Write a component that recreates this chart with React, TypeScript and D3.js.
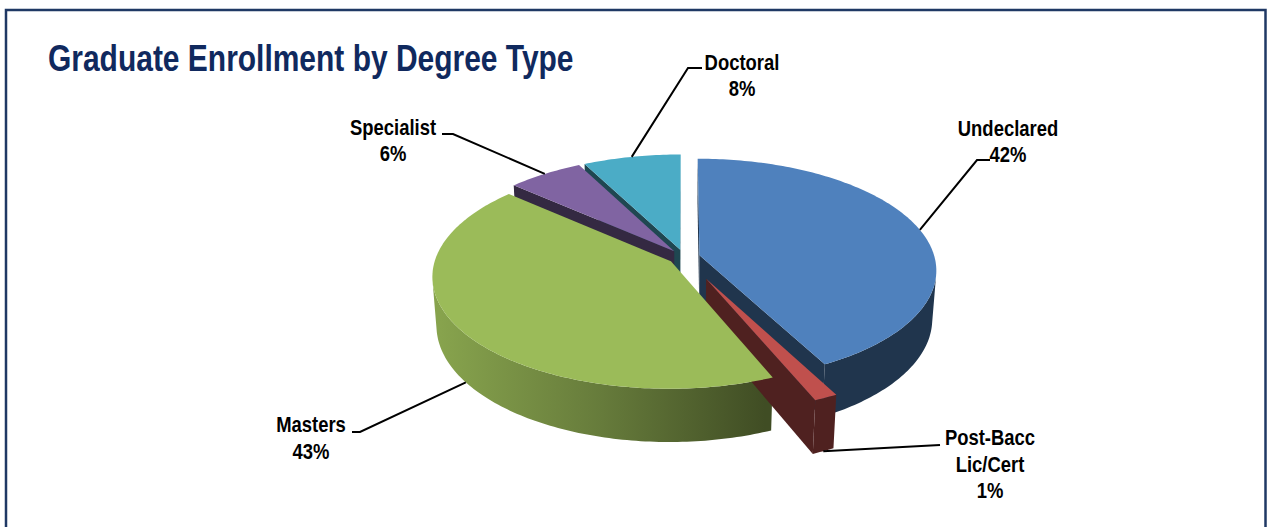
import React from 'react';
import * as d3 from 'd3';

// ---------- data ----------
const categories: string[] = ['Undeclared', 'Post-Bacc Lic/Cert', 'Masters', 'Specialist', 'Doctoral'];
const values: number[] = [42.3, 1.4, 42.8, 5.9, 7.6];
const percentLabels: string[] = ['42%', '1%', '43%', '6%', '8%'];
const labelLines: string[][] = [['Undeclared'], ['Post-Bacc', 'Lic/Cert'], ['Masters'], ['Specialist'], ['Doctoral']];
const title = 'Graduate Enrollment by Degree Type';

// ---------- style / layout ----------
const colors: string[] = ['#4F81BD', '#C0504D', '#9BBB59', '#8064A2', '#4BACC6'];
const explode: number[] = [0.068, 0.215, 0.068, 0.068, 0.068];
const labelLayout = [
  { elbow: [977, 160], end: [990, 160], cx: 1008, baselines: [136, 162] },
  { elbow: [940, 445], end: [940, 445], cx: 990, baselines: [445, 472, 498] },
  { elbow: [360, 432], end: [352, 432], cx: 311, baselines: [432, 459] },
  { elbow: [453, 134], end: [442, 134], cx: 393, baselines: [135, 161] },
  { elbow: [688, 68], end: [702, 68], cx: 742, baselines: [70, 96] },
];

const W = 1267;
const H = 527;
const CX = 684;
const CY = 257;
const SIN_A = 0.466;
const COS_A = Math.sqrt(1 - SIN_A * SIN_A);
const DIST = 6.79;
const FOCAL = 1596;
const DEPTH = 0.236;
const CAM: [number, number, number] = [0, DIST * SIN_A, -DIST * COS_A];
const FONT = "'Liberation Sans', Arial, sans-serif";

function project(x: number, y: number, z: number): [number, number] {
  const depth = -y * SIN_A + z * COS_A;
  const up = y * COS_A + z * SIN_A;
  const k = FOCAL / (DIST + depth);
  return [CX + x * k, CY - up * k];
}

function shade(c: string, k: number): string {
  const r = d3.rgb(c);
  return d3.rgb(r.r * k, r.g * k, r.b * k).formatHex();
}

const line = d3.line<[number, number]>().x((d) => d[0]).y((d) => d[1]);

export default function App() {
  const pie = d3.pie<number>().sort(null).startAngle(0).endAngle(2 * Math.PI);
  const arcs = pie(values);

  const slices = arcs.map((a, i) => {
    const mid = (a.startAngle + a.endAngle) / 2;
    const ox = explode[i] * Math.sin(mid);
    const oz = explode[i] * Math.cos(mid);
    const rim = (t: number, y: number) => project(ox + Math.sin(t), y, oz + Math.cos(t));
    const n = Math.max(2, Math.ceil(((a.endAngle - a.startAngle) * 180) / Math.PI));
    const angles = d3.range(n + 1).map((j) => a.startAngle + ((a.endAngle - a.startAngle) * j) / n);
    const vTop = project(ox, 0, oz);
    const vBot = project(ox, -DEPTH, oz);
    const top = [vTop, ...angles.map((t) => rim(t, 0))];

    const wallVisible = (t: number) =>
      -ox * Math.sin(t) - oz * Math.cos(t) - 1 - DIST * COS_A * Math.cos(t) > 0;
    const walls: [number, number][][] = [];
    let run: number[] = [];
    const flush = () => {
      if (run.length > 1)
        walls.push([...run.map((u) => rim(u, 0)), ...run.slice().reverse().map((u) => rim(u, -DEPTH))]);
      run = [];
    };
    angles.forEach((t) => {
      if (wallVisible(t)) run.push(t);
      else flush();
    });
    flush();

    const camV = [CAM[0] - ox, CAM[1], CAM[2] - oz];
    const faces: [number, number][][] = [];
    const nStart = [-Math.cos(a.startAngle), 0, Math.sin(a.startAngle)];
    const nEnd = [Math.cos(a.endAngle), 0, -Math.sin(a.endAngle)];
    const dot = (p: number[], q: number[]) => p[0] * q[0] + p[1] * q[1] + p[2] * q[2];
    if (dot(camV, nStart) > 0)
      faces.push([vTop, rim(a.startAngle, 0), rim(a.startAngle, -DEPTH), vBot]);
    if (dot(camV, nEnd) > 0)
      faces.push([vTop, rim(a.endAngle, 0), rim(a.endAngle, -DEPTH), vBot]);

    const leaderStart = wallVisible(mid) ? rim(mid, -DEPTH) : rim(mid, 0);
    const sortDepth = (oz + 0.5 * Math.cos(mid)) * COS_A;
    return { i, top, walls, faces, leaderStart, sortDepth };
  });

  const order = slices.slice().sort((p, q) => q.sortDepth - p.sortDepth);

  return (
    <svg width={W} height={H} style={{ position: 'absolute', left: 0, top: 0, background: '#fff' }}>
      <defs>
        {colors.map((c, i) => (
          <linearGradient key={i} id={`wall${i}`} gradientUnits="userSpaceOnUse" x1={CX - 244} x2={CX + 81} y1={0} y2={0}>
            <stop offset="0" stopColor={shade(c, 0.87)} />
            <stop offset="0.5" stopColor={shade(c, 0.66)} />
            <stop offset="1" stopColor={shade(c, 0.41)} />
          </linearGradient>
        ))}
      </defs>
      <rect x={0} y={0} width={W} height={H} fill="#fff" />
      <rect x={6} y={10} width={1259.5} height={560} fill="none" stroke="#1F3864" strokeWidth={2.5} />
      <text
        transform="translate(48,71) scale(0.81,1)"
        fontFamily={FONT}
        fontWeight="bold"
        fontSize={37}
        fill="#10295E"
      >
        {title}
      </text>

      {order.map((s) => (
        <g key={`side${s.i}`}>
          {s.faces.map((f, j) => (
            <path key={`f${j}`} d={line(f) + 'Z'} fill={shade(colors[s.i], 0.41)} />
          ))}
          {s.walls.map((w, j) => (
            <path key={`w${j}`} d={line(w) + 'Z'} fill={`url(#wall${s.i})`} />
          ))}
        </g>
      ))}
      {slices.map((s) => (
        <path key={`top${s.i}`} d={line(s.top) + 'Z'} fill={colors[s.i]} />
      ))}

      {slices.map((s) => {
        const L = labelLayout[s.i];
        const pts: [number, number][] = [s.leaderStart, L.elbow as [number, number], L.end as [number, number]];
        const lines = [...labelLines[s.i], percentLabels[s.i]];
        return (
          <g key={`lab${s.i}`}>
            <path d={line(pts) || ''} fill="none" stroke="#000" strokeWidth={2} />
            {lines.map((t, j) => (
              <text
                key={j}
                transform={`translate(${L.cx},${L.baselines[j]}) scale(0.82,1)`}
                textAnchor="middle"
                fontFamily={FONT}
                fontWeight="bold"
                fontSize={22.5}
                fill="#000"
              >
                {t}
              </text>
            ))}
          </g>
        );
      })}
    </svg>
  );
}
